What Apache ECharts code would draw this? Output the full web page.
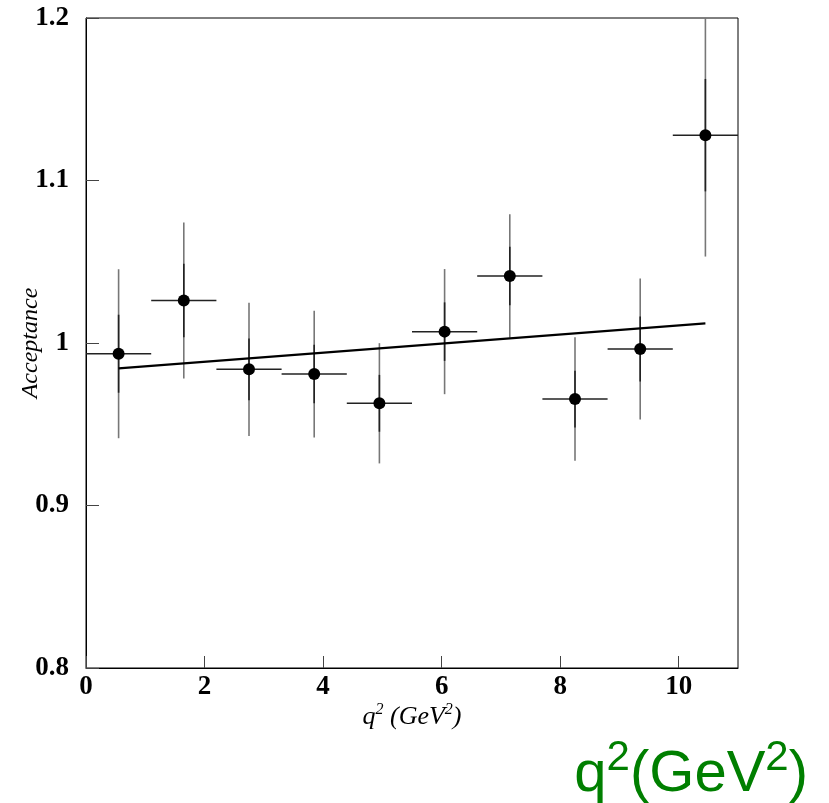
<!DOCTYPE html>
<html>
<head>
<meta charset="utf-8">
<script src="https://cdn.jsdelivr.net/npm/echarts@6/dist/echarts.min.js"></script>
<style>
html,body{margin:0;padding:0;background:#fff;}
#chart{width:829px;height:803px;}
</style>
</head>
<body>
<div id="chart"></div>
<script>
// q^2 bin centres (GeV^2) and half-widths
var q2 = [0.55, 1.65, 2.75, 3.85, 4.95, 6.05, 7.15, 8.25, 9.35, 10.45];
var q2HalfWidth = [0.55, 0.55, 0.55, 0.55, 0.55, 0.55, 0.55, 0.55, 0.55, 0.55];
// acceptance values
var acceptance = [0.9934, 1.0261, 0.9838, 0.9809, 0.9629, 1.0070, 1.0413, 0.9655, 0.9963, 1.1279];
// total (outer) and statistical (inner) errors
var totalErr = [0.052, 0.048, 0.041, 0.039, 0.037, 0.0385, 0.038, 0.038, 0.0434, 0.0747];
var statErr  = [0.024, 0.0226, 0.019, 0.018, 0.0175, 0.018, 0.018, 0.0175, 0.020, 0.0346];
// linear fit line endpoints
var fitX = [0.55, 10.45];
var fitY = [0.9844, 1.0121];
// axis ticks
var xTicks = [0, 2, 4, 6, 8, 10];
var yTicks = [0.8, 0.9, 1.0, 1.1, 1.2];

var errData = q2.map(function (x, i) {
  return [x, acceptance[i], q2HalfWidth[i], totalErr[i], statErr[i]];
});
var pts = q2.map(function (x, i) { return [x, acceptance[i]]; });
var fitData = fitX.map(function (x, i) { return [x, fitY[i]]; });

var chart = echarts.init(document.getElementById('chart'), null, {renderer: 'canvas'});
var serif = '"Liberation Serif", "Times New Roman", serif';
var sans = '"Liberation Sans", Arial, sans-serif';
chart.setOption({
  animation: false,
  backgroundColor: '#fff',
  title: {
    text: '{m|q}{s|2}{m|(GeV}{s|2}{m|)}',
    right: 16,
    top: 732,
    textStyle: {
      fontWeight: 'normal',
      rich: {
        m: {fontFamily: sans, fontWeight: 'normal', fontSize: 58, color: '#007f00', lineHeight: 67, verticalAlign: 'bottom'},
        s: {fontFamily: sans, fontWeight: 'normal', fontSize: 42, color: '#007f00', lineHeight: 44, verticalAlign: 'top'}
      }
    }
  },
  grid: {
    left: 86, top: 18, right: 91, bottom: 135,
    outerBoundsMode: 'none', containLabel: false,
    show: true, borderColor: '#000', borderWidth: 1, backgroundColor: 'transparent'
  },
  xAxis: {
    type: 'value', min: 0, max: 11, interval: 2,
    name: '{i|q}{s|2}{i| (GeV}{s|2}{i|)}',
    nameLocation: 'middle', nameGap: 34, nameMoveOverlap: false,
    nameTextStyle: {
      rich: {
        i: {fontFamily: serif, fontStyle: 'italic', fontSize: 26, color: '#000', lineHeight: 28, verticalAlign: 'bottom'},
        s: {fontFamily: serif, fontStyle: 'italic', fontSize: 16, color: '#000', lineHeight: 16, verticalAlign: 'top'}
      }
    },
    axisLine: {show: true, onZero: false, lineStyle: {color: '#000', width: 1}},
    axisTick: {show: true, inside: true, length: 12, lineStyle: {color: '#444', width: 1}},
    axisLabel: {
      margin: 6, fontFamily: serif, fontWeight: 'bold', fontSize: 27, color: '#000',
      showMaxLabel: false,
      formatter: function (v) { return xTicks.indexOf(v) >= 0 ? String(v) : ''; }
    },
    splitLine: {show: false}
  },
  yAxis: {
    type: 'value', min: 0.8, max: 1.2, interval: 0.1,
    name: 'Acceptance',
    nameLocation: 'middle', nameGap: 43, nameMoveOverlap: false,
    nameTextStyle: {fontFamily: serif, fontStyle: 'italic', fontSize: 24, color: '#000'},
    axisLine: {show: true, onZero: false, lineStyle: {color: '#000', width: 1}},
    axisTick: {show: true, inside: true, length: 13, lineStyle: {color: '#444', width: 1}},
    axisLabel: {
      margin: 17, fontFamily: serif, fontWeight: 'bold', fontSize: 27, color: '#000',
      formatter: function (v) {
        for (var k = 0; k < yTicks.length; k++) {
          if (Math.abs(yTicks[k] - v) < 1e-6) return String(+yTicks[k].toFixed(1));
        }
        return '';
      }
    },
    splitLine: {show: false}
  },
  series: [
    {
      type: 'line',
      data: fitData,
      symbol: 'none',
      lineStyle: {color: '#000', width: 2.2},
      z: 3
    },
    {
      type: 'custom',
      clip: true,
      data: errData,
      renderItem: function (params, api) {
        var x = api.value(0), y = api.value(1), hw = api.value(2), te = api.value(3), se = api.value(4);
        var l = api.coord([x - hw, y]), r = api.coord([x + hw, y]);
        var tTop = api.coord([x, y + te]), tBot = api.coord([x, y - te]);
        var sTop = api.coord([x, y + se]), sBot = api.coord([x, y - se]);
        return {
          type: 'group',
          children: [
            {type: 'line', shape: {x1: tTop[0], y1: tTop[1], x2: tBot[0], y2: tBot[1]}, style: {stroke: '#777', lineWidth: 1.6}},
            {type: 'line', shape: {x1: sTop[0], y1: sTop[1], x2: sBot[0], y2: sBot[1]}, style: {stroke: '#222', lineWidth: 1.6}},
            {type: 'line', shape: {x1: l[0], y1: l[1], x2: r[0], y2: r[1]}, style: {stroke: '#222', lineWidth: 1.5}}
          ]
        };
      },
      z: 2
    },
    {
      type: 'scatter',
      data: pts,
      symbol: 'circle',
      symbolSize: 12,
      itemStyle: {color: '#000', opacity: 1},
      z: 4
    }
  ]
});
</script>
</body>
</html>
